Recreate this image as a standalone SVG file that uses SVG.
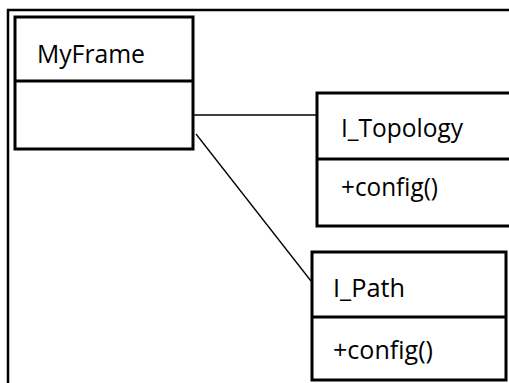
<svg xmlns="http://www.w3.org/2000/svg" width="509" height="383" viewBox="0 0 509 383">
  <style>
    .box { fill: #ffffff; stroke: #000000; stroke-width: 3; }
    .div { stroke: #000000; stroke-width: 3; }
    .lbl { font-family: "Open Sans", "Liberation Sans", Arial, sans-serif; font-size: 25px; fill: #000000; }
    .link { stroke: #000000; stroke-width: 1.3; fill: none; }
    .frame { stroke: #000000; stroke-width: 2.5; fill: none; }
  </style>
  <rect width="509" height="383" fill="#ffffff"/>

  <!-- outer frame -->
  <path class="frame" d="M8,383 V10 H509"/>

  <!-- associations -->
  <g id="connectors">
    <line class="link" x1="193" y1="115" x2="317" y2="115"/>
    <line class="link" x1="196" y1="134" x2="311" y2="281"/>
  </g>

  <g id="MyFrame">
    <rect class="box" x="15" y="17" width="178" height="132"/>
    <line class="div" x1="15" y1="81" x2="193" y2="81"/>
    <text class="lbl" x="37" y="63" textLength="108" lengthAdjust="spacingAndGlyphs">MyFrame</text>
  </g>

  <g id="I_Topology">
    <rect class="box" x="317" y="93" width="200" height="133"/>
    <line class="div" x1="317" y1="159" x2="509" y2="159"/>
    <text class="lbl" x="341" y="137" textLength="122" lengthAdjust="spacingAndGlyphs">I_Topology</text>
    <text class="lbl" x="341" y="196" textLength="97" lengthAdjust="spacingAndGlyphs">+config()</text>
  </g>

  <g id="I_Path">
    <rect class="box" x="312" y="252" width="194" height="128"/>
    <line class="div" x1="312" y1="317" x2="506" y2="317"/>
    <text class="lbl" x="333" y="297" textLength="72" lengthAdjust="spacingAndGlyphs">I_Path</text>
    <text class="lbl" x="333" y="359" textLength="100" lengthAdjust="spacingAndGlyphs">+config()</text>
  </g>
</svg>
